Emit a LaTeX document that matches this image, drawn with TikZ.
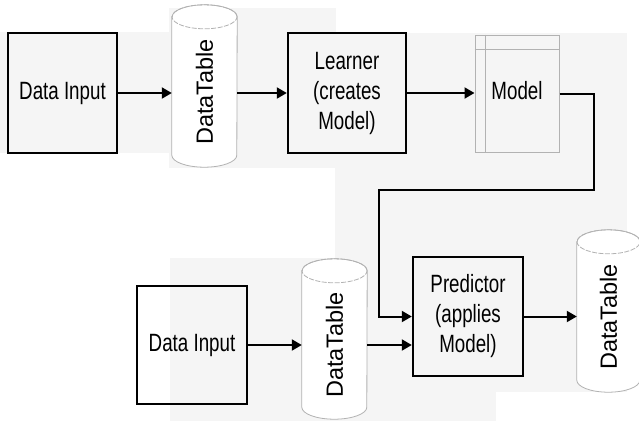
\documentclass[tikz,border=0pt]{standalone}
\usepackage{fontspec}
\setmainfont{Liberation Sans}
\usepackage{graphicx}
\usepackage{tikz}
\usetikzlibrary{calc, arrows.meta, backgrounds}

% schmale Beschriftung
\newcommand\narrow[1]{\scalebox{0.75}[1]{\begin{tabular}{@{}c@{}}#1\end{tabular}}}
% Zylinder um einen Knoten
\newcommand\drawdt[2]{%
  \path[dtline,fill=white] ($(#1.north west)+(0,12)$) -- ($(#1.south west)+(0,-12)$)
    arc[start angle=180,end angle=360,x radius=#2pt,y radius=12pt]
    -- ($(#1.north east)+(0,12)$)
    arc[start angle=0,end angle=180,x radius=#2pt,y radius=12pt] -- cycle;
  \draw[dtline,dash pattern=on 5pt off 1.5pt] ($(#1.north)+(0,12)$) ellipse[x radius=#2pt,y radius=12pt];
}

\begin{document}
\begin{tikzpicture}[x=1pt,y=-1pt,
  box/.style={draw,line width=2.4pt,inner sep=0pt,font=\fontsize{25}{30}\selectfont},
  dtable/.style={inner sep=0pt,font=\fontsize{23.5}{26}\selectfont},
  dtline/.style={draw=gray!60,line width=0.8pt},
  arr/.style={-{Triangle[length=10pt,width=11pt]},line width=2pt},
  bg/.style={fill=black!4}]
  \useasboundingbox (0,0) rectangle (639,421);
  % oben
  \node[box,minimum width=109pt,minimum height=120pt] (in1) at (62.5,93) {\narrow{Data Input}};
  \node[dtable,minimum width=65pt,minimum height=162pt] (dt1) at (204.5,86) {\rotatebox{90}{DataTable\kern12pt}};
  \node[box,minimum width=118pt,minimum height=120pt] (learner) at (347,93) {\narrow{Learner\\(creates\\Model)}};
  \node[draw=gray!60,line width=1pt,inner sep=0pt,minimum width=84pt,minimum height=117pt,font=\fontsize{25}{30}\selectfont] (model) at (517,93.5) {\narrow{Model}};
  \draw[gray!60,line width=1pt] ($(model.north west)+(0,15)$) -- ($(model.north east)+(0,15)$);
  \draw[gray!60,line width=1pt] ($(model.north west)+(11,0)$) -- ($(model.south west)+(11,0)$);
  % unten
  \node[box,minimum width=110pt,minimum height=118pt] (in2) at (192,345) {\narrow{Data Input}};
  \node[dtable,minimum width=65pt,minimum height=160pt] (dt2) at (334.5,339) {\rotatebox{90}{DataTable\kern12pt}};
  \node[box,minimum width=110pt,minimum height=119pt] (pred) at (468,316.5) {\narrow{Predictor\\(applies\\Model)}};
  \node[dtable,minimum width=63pt,minimum height=162pt] (dt3) at (608.5,311) {\rotatebox{90}{DataTable\kern12pt}};
  \coordinate (bend) at (379,190);
  % Hintergrund und Zylinder
  \begin{scope}[on background layer]
    \fill[bg] (0,32) rectangle (170,153);
    \fill[bg] (169,8) rectangle (336,168);
    \fill[bg] (335,33) rectangle (627,392);
    \fill[bg] (335,168) rectangle (496,421);
    \fill[bg] (170,258) rectangle (336,421);
    \drawdt{dt1}{32.5}
    \drawdt{dt2}{32.5}
    \drawdt{dt3}{31.5}
  \end{scope}
  % Pfeile
  \draw[arr] (in1.east) -- (in1.east -| dt1.west);
  \draw[arr] (in1.east -| dt1.east) -- (learner.west);
  \draw[arr] (learner.east) -- (learner.east -| model.west);
  \draw[arr] (model.east) -- ++(34,0) |- (bend) |- (pred.west);
  \draw[arr] (in2.east) -- (in2.east -| dt2.west);
  \draw[arr] (in2.east -| dt2.east) -- (in2.east -| pred.west);
  \draw[arr] (pred.east) -- (pred.east -| dt3.west);
\end{tikzpicture}
\end{document}
